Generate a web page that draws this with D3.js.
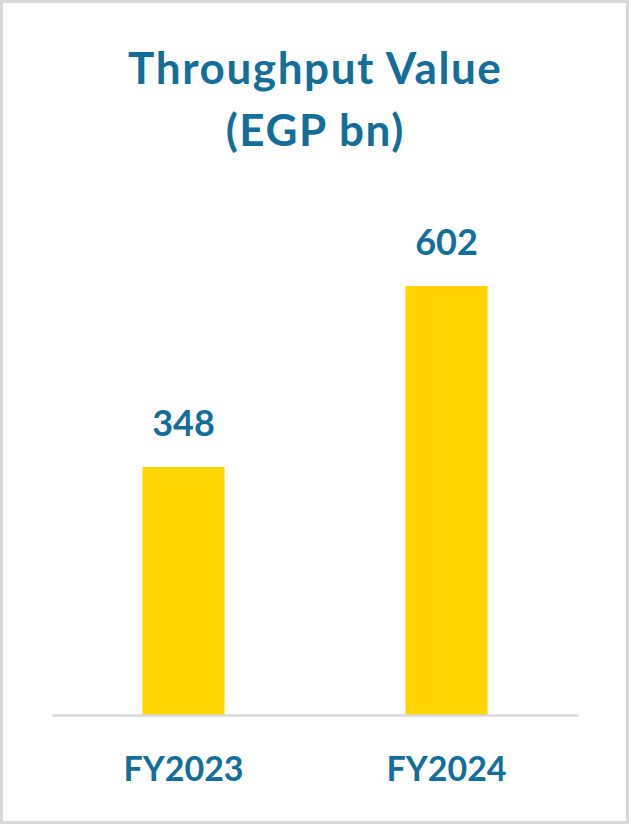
<!DOCTYPE html>
<html><head><meta charset="utf-8">
<script src="https://cdn.jsdelivr.net/npm/d3@7"></script>
<style>html,body{margin:0;padding:0;background:#fff;}svg{display:block;}</style>
</head><body>
<script>
const categories = ["FY2023", "FY2024"];
const values = [348, 602];
const titleLines = ["Throughput Value", "(EGP bn)"];

const W = 629, H = 824;
const teal = "#136e9a", yellow = "#ffd400", grey = "#d9d9d9";
const font = "Lato, 'Open Sans', sans-serif";

const svg = d3.select("body").append("svg").attr("width", W).attr("height", H);
svg.append("rect").attr("x", 1.5).attr("y", 1.5).attr("width", W - 3).attr("height", H - 3)
  .attr("fill", "#fff").attr("stroke", grey).attr("stroke-width", 3);

const x = d3.scaleBand().domain(categories).range([52, 578]).paddingInner(0.688).paddingOuter(0.344);
const y = d3.scaleLinear().domain([0, 700]).range([715, 715 - 700 * 0.7126]);

svg.append("g").selectAll("text").data(titleLines).join("text")
  .attr("x", W / 2 + 0.8).attr("y", (d, i) => 84 + i * 62)
  .attr("text-anchor", "middle").attr("font-family", font).attr("font-weight", 700)
  .attr("letter-spacing", 1.6)
  .attr("font-size", 44).attr("fill", teal).text(d => d);

svg.append("g").selectAll("rect").data(values).join("rect")
  .attr("x", (d, i) => x(categories[i])).attr("width", x.bandwidth())
  .attr("y", d => y(d)).attr("height", d => y(0) - y(d)).attr("fill", yellow);

svg.append("g").selectAll("text").data(values).join("text")
  .attr("x", (d, i) => x(categories[i]) + x.bandwidth() / 2).attr("y", d => y(d) - 31)
  .attr("text-anchor", "middle").attr("font-family", font).attr("font-weight", 700)
  .attr("font-size", 36).attr("fill", teal).text(d => d);

const xAxis = svg.append("g").attr("transform", `translate(0,${y(0)})`)
  .call(d3.axisBottom(x).tickSize(0).tickPadding(0));
xAxis.select(".domain").attr("stroke", grey).attr("stroke-width", 2.5);
xAxis.selectAll(".tick text").attr("y", 66).attr("dy", 0)
  .attr("font-family", font).attr("font-weight", 700).attr("font-size", 34).attr("fill", teal);
</script>
</body></html>
